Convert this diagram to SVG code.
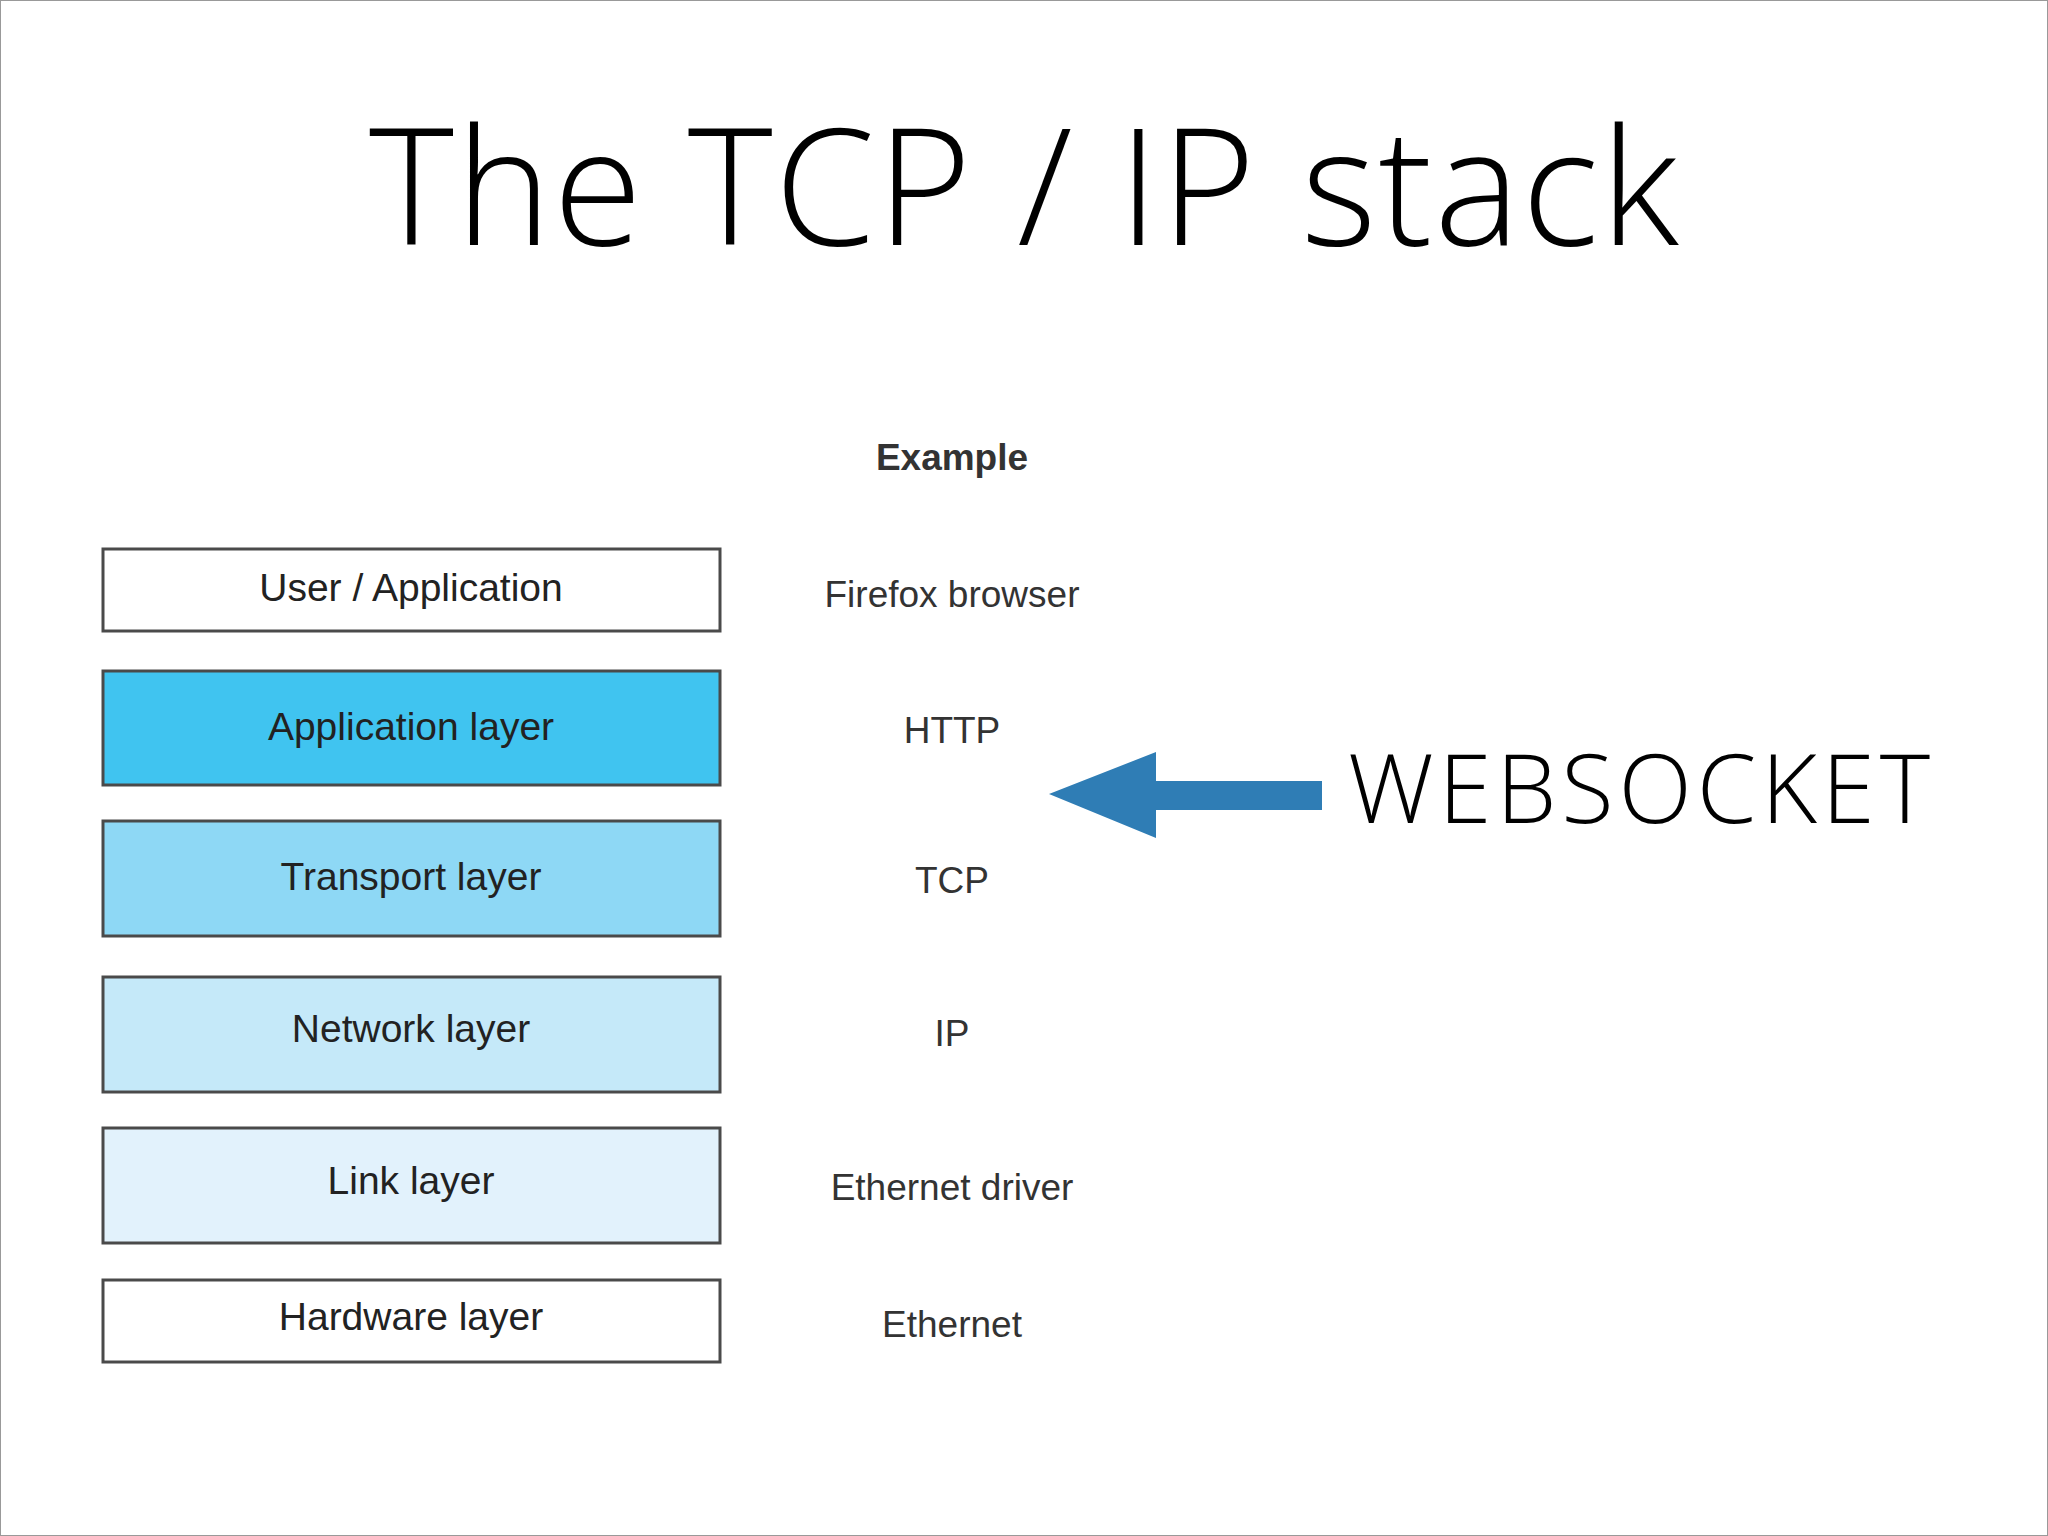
<svg xmlns="http://www.w3.org/2000/svg" width="2048" height="1536" viewBox="0 0 2048 1536">
<style>
.box{stroke:#4a4a4a;stroke-width:3}
.lbl{font-family:"Liberation Sans",Arial,sans-serif;font-size:39px;fill:#222;text-anchor:middle}
.ex{font-family:"Liberation Sans",Arial,sans-serif;font-size:37px;fill:#333;text-anchor:middle}
</style>
<rect x="0" y="0" width="2048" height="1536" fill="#fff" stroke="#999" stroke-width="2"/>
<text x="1024" y="245" font-family="Open Sans, Lato, sans-serif" font-weight="300" font-size="162" text-anchor="middle" fill="#000" textLength="1310">The TCP / IP stack</text>
<g id="user"><rect class="box" x="103" y="549" width="617" height="82" fill="#fff"/><text class="lbl" x="411" y="601">User / Application</text></g>
<g id="app"><rect class="box" x="103" y="671" width="617" height="114" fill="#40C4F0"/><text class="lbl" x="411" y="740">Application layer</text></g>
<g id="transport"><rect class="box" x="103" y="821" width="617" height="115" fill="#8ED8F5"/><text class="lbl" x="411" y="890">Transport layer</text></g>
<g id="network"><rect class="box" x="103" y="977" width="617" height="115" fill="#C5E9F9"/><text class="lbl" x="411" y="1042">Network layer</text></g>
<g id="link"><rect class="box" x="103" y="1128" width="617" height="115" fill="#E2F2FC"/><text class="lbl" x="411" y="1194">Link layer</text></g>
<g id="hardware"><rect class="box" x="103" y="1280" width="617" height="82" fill="#fff"/><text class="lbl" x="411" y="1330">Hardware layer</text></g>
<g id="examples">
<text class="ex" x="952" y="470" font-weight="bold">Example</text>
<text class="ex" x="952" y="607">Firefox browser</text>
<text class="ex" x="952" y="743">HTTP</text>
<text class="ex" x="952" y="893">TCP</text>
<text class="ex" x="952" y="1046">IP</text>
<text class="ex" x="952" y="1200">Ethernet driver</text>
<text class="ex" x="952" y="1337">Ethernet</text>
</g>
<g id="connectors">
<polygon points="1049,794 1156,752 1156,781 1322,781 1322,810 1156,810 1156,838" fill="#2F7DB5"/>
</g>
<text x="1348" y="823" font-family="Open Sans, Lato, sans-serif" font-weight="300" font-size="96" textLength="582" fill="#000">WEBSOCKET</text>
</svg>
